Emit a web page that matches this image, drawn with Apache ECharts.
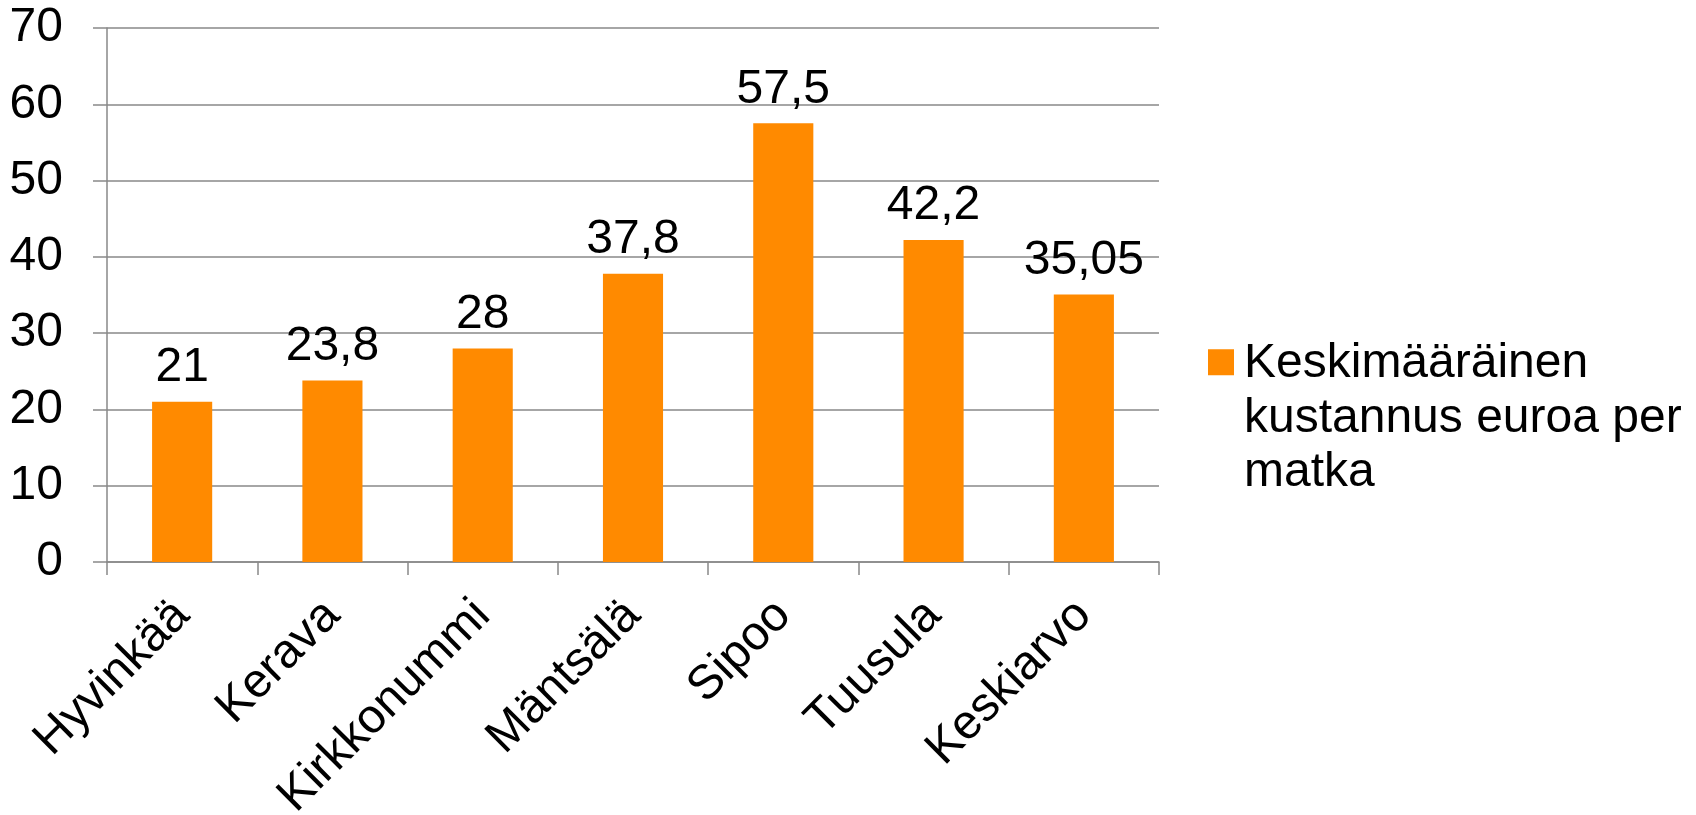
<!DOCTYPE html>
<html>
<head>
<meta charset="utf-8">
<script src="https://cdn.jsdelivr.net/npm/echarts@6/dist/echarts.min.js"></script>
<style>
html,body{margin:0;padding:0;background:#fff;}
#chart{width:1696px;height:815px;}
</style>
</head>
<body>
<div id="chart"></div>
<script>
var categories = ['Hyvinkää', 'Kerava', 'Kirkkonummi', 'Mäntsälä', 'Sipoo', 'Tuusula', 'Keskiarvo'];
var values = [21, 23.8, 28, 37.8, 57.5, 42.2, 35.05];
var seriesName = 'Keskimääräinen kustannus euroa per matka';
var legendLines = ['Keskimääräinen', 'kustannus euroa per', 'matka'];
var yTicks = [0, 10, 20, 30, 40, 50, 60, 70];

var FONT = '"Liberation Sans", Arial, sans-serif';
var FS = 48;
var AXIS = '#898989';
var chart = echarts.init(document.getElementById('chart'));
chart.setOption({
  animation: false,
  textStyle: { fontFamily: FONT },
  grid: { left: 107, right: 537, top: 28, bottom: 253, containLabel: false, outerBoundsMode: 'none' },
  legend: {
    left: 1203, top: 332, orient: 'vertical',
    itemWidth: 26, itemHeight: 163,
    icon: 'path://M0,0h0.01v0.01h-0.01z M0,12h26v26h-26z M25.99,162.99h0.01v0.01h-0.01z',
    formatter: function () { return legendLines.join('\n'); },
    textStyle: { fontSize: FS, lineHeight: 54.5, color: '#000', fontFamily: FONT, padding: [0, 0, 0, 5] },
    data: [seriesName]
  },
  xAxis: {
    type: 'category', data: categories, boundaryGap: true,
    axisLine: { lineStyle: { color: AXIS, width: 1.5 } },
    axisTick: { show: true, length: 13, lineStyle: { color: AXIS, width: 1.5 }, alignWithLabel: false },
    axisLabel: { rotate: 45, fontSize: FS, color: '#000', margin: 46, fontFamily: FONT, interval: 0 },
    splitLine: { show: false }
  },
  yAxis: {
    type: 'value', min: 0, max: 70, interval: 10,
    axisLine: { show: true, lineStyle: { color: AXIS, width: 1.5 } },
    axisTick: { show: true, length: 14, lineStyle: { color: AXIS, width: 1.5 } },
    axisLabel: { fontSize: FS, color: '#000', margin: 44, fontFamily: FONT,
      formatter: function (v) { return yTicks.indexOf(v) >= 0 ? String(v) : ''; } },
    splitLine: { show: true, lineStyle: { color: AXIS, width: 1.5 } }
  },
  series: [{
    name: seriesName, type: 'bar', data: values, barWidth: '40%',
    itemStyle: { color: '#FF8A00' },
    label: { show: true, position: 'top', distance: 10, fontSize: FS, color: '#000', fontFamily: FONT,
      formatter: function (p) { return String(p.value).replace('.', ','); } }
  }]
});
</script>
</body>
</html>
